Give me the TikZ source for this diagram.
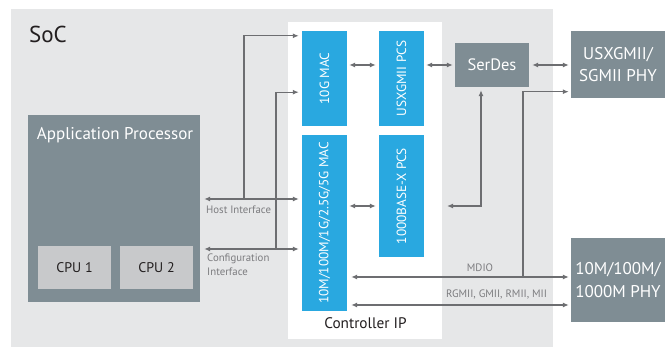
\documentclass[tikz,border=0pt]{standalone}
\usepackage{fontspec}
\setmainfont{PT Sans}
\usetikzlibrary{arrows.meta}
\definecolor{socbg}{HTML}{E6E7E8}
\definecolor{ipblue}{HTML}{29A8E0}
\definecolor{boxgray}{HTML}{7F8D94}
\definecolor{cpugray}{HTML}{C8C9CB}
\definecolor{wire}{HTML}{6D6E71}
\definecolor{ink}{HTML}{231F20}
\tikzset{
  ipblk/.style={fill=ipblue,text=white,minimum width=45pt,inner sep=0pt,font=\fontsize{13.3}{15}\selectfont},
  grybox/.style={fill=boxgray,text=white,inner sep=0pt,align=center},
  cpubox/.style={fill=cpugray,text=ink,minimum width=73pt,minimum height=43pt,inner sep=0pt,font=\fontsize{14}{16}\selectfont},
  wlbl/.style={text=wire!90,inner sep=0pt,font=\fontsize{10.8}{14}\selectfont},
  link/.style={draw=wire,line width=1.3pt,>={Latex[length=6pt,width=5pt]}},
}
\begin{document}
\begin{tikzpicture}[x=1pt,y=-1pt]
\useasboundingbox (0,0) rectangle (665,347);
% chip and IP areas
\fill[socbg] (11,9) rectangle (553,350);
\fill[white] (288,22) rectangle (442,339);
\node[anchor=base west,inner sep=0pt,text=ink,font=\fontsize{23}{26}\selectfont] (soc) at (29,43) {SoC};
\node[anchor=base,inner sep=0pt,text=ink,font=\fontsize{15.3}{17}\selectfont] (ctrl) at (365.5,329) {Controller IP};

% processor
\node[grybox,minimum width=172pt,minimum height=187pt] (app) at (114,208.5) {};
\node[anchor=base west,inner sep=0pt,text=white,font=\fontsize{17}{20}\selectfont] (apptitle) at ([shift={(9,25)}]app.north west) {Application Processor};
\node[cpubox] (cpu1) at (74.5,267.5) {CPU 1};
\node[cpubox] (cpu2) at (156.5,267.5) {CPU 2};

% MACs and PCSs
\node[ipblk,minimum height=95pt] (mac10g) at (324.5,78.5) {\rotatebox{90}{10G MAC}};
\node[ipblk,minimum height=176pt] (macmulti) at (324.5,223) {\rotatebox{90}{10M/100M/1G/2.5G/5G MAC}};
\node[ipblk,minimum height=95pt] (pcsusx) at (401.5,78.5) {\rotatebox{90}{USXGMII PCS}};
\node[ipblk,minimum height=122pt] (pcsbx) at (401.5,196) {\rotatebox{90}{1000BASE-X PCS}};

% SerDes and PHYs
\node[grybox,minimum width=74pt,minimum height=44pt,font=\fontsize{16.5}{19}\selectfont] (serdes) at (492,65) {SerDes};
\node[grybox,minimum width=94pt,minimum height=67pt,font=\fontsize{17}{22}\selectfont] (phyusx) at (618,65) {USXGMII/\\SGMII PHY};
\node[grybox,minimum width=94pt,minimum height=84pt,font=\fontsize{17}{23}\selectfont] (phygig) at (618,280) {10M/100M/\\1000M PHY};

% junctions
\coordinate (hostj) at (244,199);
\coordinate (cfgj) at (276,249);
\coordinate (mdioj) at (523,277);
\coordinate (rgj) at (0,305);
\coordinate (pcsend) at (447,206);

\draw[link,<->] ([xshift=4]app.east |- hostj) -- ([xshift=-3]macmulti.west |- hostj);
\draw[link,<->] ([xshift=4]app.east |- cfgj) -- ([xshift=-3]macmulti.west |- cfgj);
\draw[link,->] (hostj) |- ([shift={(-3,5)}]mac10g.north west);
\draw[link,->] (cfgj) |- ([shift={(-3,-34)}]mac10g.south west);
\draw[link,<->] ([xshift=2]mac10g.east |- serdes) -- ([xshift=-3]pcsusx.west |- serdes);
\draw[link,<->] ([xshift=2]pcsusx.east |- serdes) -- ([xshift=-2]serdes.west);
\draw[link,<->] ([xshift=3]serdes.east) -- ([xshift=-2]phyusx.west);
\draw[link,<->] ([xshift=2]macmulti.east |- pcsend) -- ([xshift=-3]pcsbx.west |- pcsend);
\draw[link,<->] ([shift={(-11,3)}]serdes.south) |- (pcsend);
\draw[link,<->] ([xshift=4]macmulti.east |- mdioj) -- ([xshift=-2]phygig.west |- mdioj);
\draw[link,->] (mdioj) |- ([shift={(-2,-7)}]phyusx.south west);
\draw[link,<->] ([xshift=4]macmulti.east |- rgj) -- ([xshift=-2]phygig.west |- rgj);

% bus labels
\node[wlbl,anchor=base west] (hostlbl) at (206,214) {Host Interface};
\node[wlbl,anchor=north west,align=left] (cfglbl) at (207,254) {Configuration\\Interface};
\node[wlbl,anchor=base] (mdiolbl) at (480,272) {MDIO};
\node[wlbl,anchor=base] (rglbl) at (496.5,298) {RGMII, GMII, RMII, MII};
\end{tikzpicture}
\end{document}
